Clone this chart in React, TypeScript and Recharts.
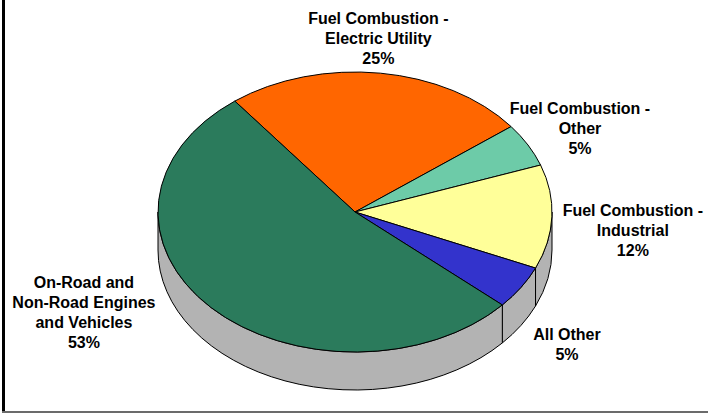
import { PieChart, Pie } from "recharts";

// emission shares by source category, drawn clockwise from the top-left
const CATEGORIES = [
  "Fuel Combustion -\nElectric Utility",
  "Fuel Combustion -\nOther",
  "Fuel Combustion -\nIndustrial",
  "All Other",
  "On-Road and\nNon-Road Engines\nand Vehicles",
];
const SHARES = [25, 5, 12, 5, 53];
const COLORS = ["#FF6600", "#6DCBA8", "#FFFF99", "#3333CC", "#2B7B5C"];

// where each label block sits relative to the rim point of its slice
const LABEL_NUDGE: [number, number][] = [
  [-2, -35],
  [52, -17],
  [81, 13],
  [46, 57],
  [-127, 5],
];

const data = CATEGORIES.map((name, i) => ({ name, value: SHARES[i], fill: COLORS[i] }));

const W = 708;
const H = 413;
const CX = 355;
const CY = 212;
const R = 197;
const TILT = 140 / 197; // vertical squash of the tilted disc
const DEPTH = 38;
const START = 127.6;
const SIDE = "#B3B3B3";
const FONT = "'Liberation Sans', Arial, sans-serif";

const RAD = Math.PI / 180;
const pt = (cx: number, cy: number, r: number, a: number): [number, number] => [
  cx + r * Math.cos(a * RAD),
  cy - r * TILT * Math.sin(a * RAD),
];

function TopSector(props: any) {
  const { cx, cy, outerRadius: r, startAngle, endAngle, fill } = props;
  const [x1, y1] = pt(cx, cy, r, startAngle);
  const [x2, y2] = pt(cx, cy, r, endAngle);
  const sweep = endAngle < startAngle ? 1 : 0;
  const large = Math.abs(endAngle - startAngle) > 180 ? 1 : 0;
  const d = `M${cx},${cy} L${x1},${y1} A${r},${r * TILT} 0 ${large} ${sweep} ${x2},${y2} Z`;
  return <path d={d} fill={fill} stroke="#000" strokeWidth={1} strokeLinejoin="round" />;
}

// the visible rim of a slice: only the part that faces the viewer (lower half)
function SideWall(props: any) {
  const { cx, cy, outerRadius: r, startAngle, endAngle } = props;
  const lo = Math.min(startAngle, endAngle);
  const hi = Math.max(startAngle, endAngle);
  const ry = r * TILT;
  const parts = [];
  for (let m = -2; m <= 2; m++) {
    const a1 = Math.max(lo, -180 + 360 * m);
    const a2 = Math.min(hi, 360 * m);
    if (a2 - a1 <= 0.01) continue;
    const [x1, y1] = pt(cx, cy, r, a1);
    const [x2, y2] = pt(cx, cy, r, a2);
    const large = a2 - a1 > 180 ? 1 : 0;
    const d =
      `M${x1},${y1} A${r},${ry} 0 ${large} 0 ${x2},${y2} ` +
      `L${x2},${y2 + DEPTH} A${r},${ry} 0 ${large} 1 ${x1},${y1 + DEPTH} Z`;
    parts.push(<path key={m} d={d} fill={SIDE} stroke="#000" strokeWidth={1} strokeLinejoin="round" />);
  }
  return <g>{parts}</g>;
}

const renderLabel = (p: any) => {
  const { cx, cy, midAngle, outerRadius, index } = p;
  const [ax, ay] = pt(cx, cy, outerRadius, midAngle);
  const [dx, dy] = LABEL_NUDGE[index];
  const lines = [...CATEGORIES[index].split("\n"), `${SHARES[index]}%`];
  const x = ax + dx;
  const y = ay + dy;
  return (
    <text
      x={x}
      textAnchor="middle"
      fontFamily={FONT}
      fontWeight="bold"
      fontSize={16}
      fill="#000"
    >
      {lines.map((line, i) => (
        <tspan key={i} x={x} y={y + (i - (lines.length - 1) / 2) * 20 + 5.7}>
          {line}
        </tspan>
      ))}
    </text>
  );
};

export default function App() {
  return (
    <div style={{ position: "relative", width: W, height: H, background: "#fff" }}>
      <style>{"body{margin:0}"}</style>
      <PieChart width={W} height={H} margin={{ top: 0, right: 0, bottom: 0, left: 0 }}>
        <Pie
          data={data}
          dataKey="value"
          cx={CX}
          cy={CY}
          outerRadius={R}
          startAngle={START}
          endAngle={START - 360}
          shape={SideWall}
          isAnimationActive={false}
        />
        <Pie
          data={data}
          dataKey="value"
          cx={CX}
          cy={CY}
          outerRadius={R}
          startAngle={START}
          endAngle={START - 360}
          shape={TopSector}
          label={renderLabel}
          labelLine={false}
          isAnimationActive={false}
        />
      </PieChart>
      <div style={{ position: "absolute", left: 2, top: 0, width: 3, height: 412, background: "#000" }} />
      <div style={{ position: "absolute", left: 2, top: 411, width: 706, height: 2, background: "#6b6b6b" }} />
    </div>
  );
}
